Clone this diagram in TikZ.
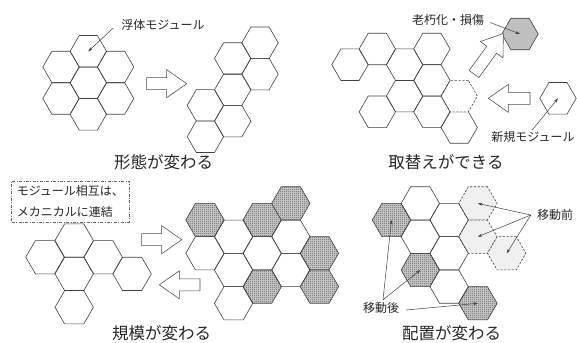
\documentclass[tikz,border=0pt]{standalone}
\usepackage{fontspec}
\setmainfont{Noto Sans CJK JP}
\usetikzlibrary{shapes.geometric,arrows.meta,patterns}
\pgfdeclarepatternformonly{finecheck}{\pgfqpoint{0pt}{0pt}}{\pgfqpoint{2pt}{2pt}}{\pgfqpoint{2pt}{2pt}}{%
  \pgfpathrectangle{\pgfqpoint{0pt}{0pt}}{\pgfqpoint{1pt}{1pt}}%
  \pgfpathrectangle{\pgfqpoint{1pt}{1pt}}{\pgfqpoint{1pt}{1pt}}%
  \pgfusepath{fill}}
\newcommand{\blkarr}[4]{% tail centre x, y, angle, length
  \draw[blockarrow, shift={(#1,#2)}, rotate=#3]
    (0,-6) -- ({#4-20},-6) -- ({#4-20},-14) -- (#4,0) -- ({#4-20},14) -- ({#4-20},6) -- (0,6) -- cycle;}
\tikzset{
  hexbase/.style={regular polygon, regular polygon sides=6, inner sep=0pt, outer sep=0pt, draw=black!75, line width=0.6pt},
  hexs/.style={hexbase, minimum size=36.4pt},
  hexl/.style={hexbase, minimum size=38.4pt},
  dashhex/.style={dash pattern=on 2.2pt off 1.6pt},
  patt/.style={preaction={fill=black!18}, pattern=finecheck, pattern color=black!65},
  blockarrow/.style={draw=black!70, fill=white, line width=0.55pt, line join=miter},
  lbl/.style={font=\fontsize{12pt}{14pt}\selectfont, text=black!85, inner sep=1pt},
  ttl/.style={font=\fontsize{16.5pt}{18pt}\selectfont, text=black!85, inner sep=1pt},
  pointer/.style={draw=black!75, line width=0.5pt, -{Stealth[length=4.5pt,width=3pt]}},
  notebox/.style={draw=black!60, dash pattern=on 3pt off 1.5pt on 0.8pt off 1.5pt, line width=0.5pt,
    align=left, minimum width=117.3pt, minimum height=41pt, inner sep=0pt,
    font=\fontsize{12pt}{21pt}\selectfont, text=black!85},
}
\begin{document}
\begin{tikzpicture}[x=1pt, y=-1pt]
\useasboundingbox (0,0) rectangle (577,342);

% ---------- Group 1: flower ----------
\node[hexs] (g1c)  at (88.3,82.8) {};
\node[hexs] (g1t)  at (88.3,51.3) {};
\node[hexs] (g1b)  at (88.3,114.3) {};
\node[hexs] (g1ul) at (61,67) {};
\node[hexs] (g1ll) at (61,98.5) {};
\node[hexs] (g1ur) at (115.6,67) {};
\node[hexs] (g1lr) at (115.6,98.5) {};
\node[lbl] (lbl1) at (163,25) {浮体モジュール};
\draw[pointer] ([xshift=-7pt,yshift=-3pt]lbl1.west) -- (g1t.center);
\blkarr{146.7}{83.7}{0}{40}

% ---------- Group 2: chain ----------
\node[hexs] (g2a) at (260,42.8) {};
\node[hexs] (g2b) at (260,74.1) {};
\node[hexs] (g2c) at (232.7,58.5) {};
\node[hexs] (g2d) at (232.7,89.8) {};
\node[hexs] (g2e) at (232.7,121.1) {};
\node[hexs] (g2f) at (205.4,105.4) {};
\node[hexs] (g2g) at (205.4,136.7) {};
\node[ttl] (t1) at (163.5,162.5) {形態が変わる};

% ---------- Group 3: replacement ----------
\node[hexs] (g3f) at (459.2,127.5) {};
\node[hexs, dashhex, fill=white] (g3e) at (459.2,96.1) {};
\node[hexs] (g3a)  at (350,64.7) {};
\node[hexs] (g3b1) at (377.3,49) {};
\node[hexs] (g3b2) at (377.3,111.8) {};
\node[hexs] (g3c1) at (404.6,64.7) {};
\node[hexs] (g3c2) at (404.6,96.1) {};
\node[hexs] (g3d1) at (431.9,49) {};
\node[hexs] (g3d2) at (431.9,80.4) {};
\node[hexs] (g3d3) at (431.9,111.8) {};
\node[hexs, fill=black!25] (gd) at (520,34) {};
\node[hexs] (gn) at (558,98.3) {};
\node[lbl] (lbl2) at (448,20) {老朽化・損傷};
\node[lbl] (lbl3) at (533,137) {新規モジュール};
\draw[pointer] ([xshift=5pt,yshift=-2.5pt]lbl2.east) -- (gd.center);
\draw[pointer] ([xshift=-1pt]lbl3.north) -- (gn.center);
\blkarr{474}{74}{54}{50}
\blkarr{530}{98.3}{180}{41.7}
\node[ttl] (t2) at (446,162.5) {取替えができる};

% ---------- Group 4: small cluster ----------
\node[notebox] (note) at (70.35,201.5) {モジュール相互は、\\メカニカルに連結};
\node[hexl] (g4t)  at (74.2,240.5) {};
\node[hexl] (g4l)  at (45,257.2) {};
\node[hexl] (g4c)  at (74.2,273.9) {};
\node[hexl] (g4ur) at (103.2,257.2) {};
\node[hexl] (g4r)  at (132.1,273.9) {};
\node[hexl] (g4b)  at (74.2,307.3) {};
\blkarr{141.7}{239.7}{0}{40}
\blkarr{200}{284.8}{180}{40.7}

% ---------- Group 5: enlarged cluster ----------
\node[hexl, patt] (p1) at (205,220) {};
\node[hexl, patt] (p2) at (262.2,220) {};
\node[hexl, patt] (p3) at (290.8,203.4) {};
\node[hexl, patt] (p4) at (262.2,286.6) {};
\node[hexl, patt] (p5) at (319.4,253.3) {};
\node[hexl, patt] (p6) at (319.4,286.6) {};
\node[hexl] (g5a) at (205,253.3) {};
\node[hexl] (g5b) at (233.6,236.7) {};
\node[hexl] (g5c) at (233.6,270) {};
\node[hexl] (g5d) at (233.6,303.3) {};
\node[hexl] (g5e) at (262.2,253.3) {};
\node[hexl] (g5f) at (290.8,236.7) {};
\node[hexl] (g5g) at (290.8,270) {};
\node[ttl] (t3) at (161.7,333.5) {規模が変わる};

% ---------- Group 6: rearrangement ----------
\node[hexl, dashhex, fill=black!6] (d1) at (477.9,203.4) {};
\node[hexl, dashhex, fill=black!6] (d2) at (477.9,236.7) {};
\node[hexl, dashhex, fill=black!6] (d3) at (506.7,253.3) {};
\node[hexl, patt] (ma) at (391.5,220) {};
\node[hexl, patt] (mb) at (420.3,270) {};
\node[hexl, patt] (mc) at (477.9,303.3) {};
\node[hexl] (g6a) at (420.3,203.4) {};
\node[hexl] (g6b) at (420.3,236.7) {};
\node[hexl] (g6c) at (449.1,220) {};
\node[hexl] (g6d) at (449.1,253.3) {};
\node[hexl] (g6e) at (449.1,286.6) {};
\node[lbl] (lbl4) at (555,215) {移動前};
\node[lbl] (lbl5) at (381,308) {移動後};
\draw[pointer] ([xshift=-5pt]lbl4.west) -- (d1.center);
\draw[pointer] ([xshift=-5pt]lbl4.west) -- (d2.center);
\draw[pointer] ([xshift=-5pt]lbl4.west) -- (d3.center);
\draw[pointer] ([xshift=2pt,yshift=1.5pt]lbl5.north) -- (ma.center);
\draw[pointer] ([xshift=2pt,yshift=1.5pt]lbl5.north) -- (mb.center);
\draw[pointer] ([xshift=6pt,yshift=-2pt]lbl5.east) -- (mc.center);
\node[ttl] (t4) at (451.7,333.5) {配置が変わる};
\end{tikzpicture}
\end{document}
